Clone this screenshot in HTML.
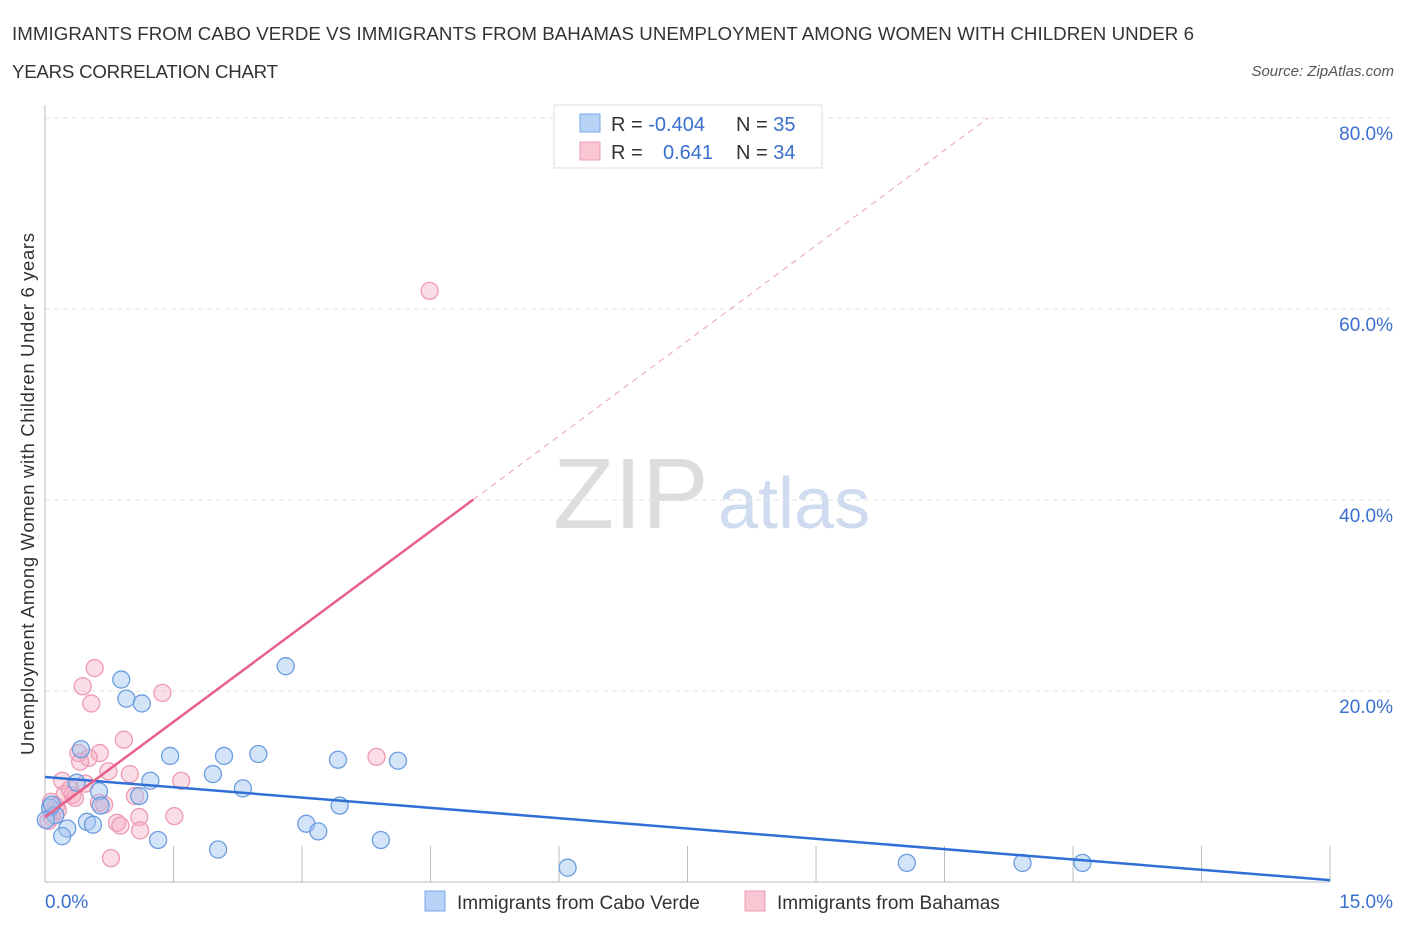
<!DOCTYPE html>
<html><head><meta charset="utf-8"><style>
body{margin:0;background:#fff;font-family:"Liberation Sans",sans-serif;}
svg text{font-family:"Liberation Sans",sans-serif;}
</style></head><body>
<svg id="c" width="1406" height="930" xmlns="http://www.w3.org/2000/svg">
<text x="12" y="40" font-size="18.7" fill="#333" textLength="1182">IMMIGRANTS FROM CABO VERDE VS IMMIGRANTS FROM BAHAMAS UNEMPLOYMENT AMONG WOMEN WITH CHILDREN UNDER 6</text>
<text x="12" y="78" font-size="18.7" fill="#333" textLength="266">YEARS CORRELATION CHART</text>
<text x="1394" y="76" font-size="15" fill="#555" font-style="italic" text-anchor="end">Source: ZipAtlas.com</text>
<text x="553" y="528" font-size="100" fill="#ddd" font-family="Liberation Serif">ZIP</text>
<text x="718" y="528" font-size="72" fill="#cfdcf0">atlas</text>
<text transform="translate(34,494) rotate(-90)" font-size="18.5" fill="#333" text-anchor="middle" textLength="522">Unemployment Among Women with Children Under 6 years</text>
<g id="grid"></g><g id="marks"></g>
<g>
<rect x="554" y="105" width="268" height="63" fill="#fff" stroke="#ddd"/>
<rect x="580" y="114" width="20" height="18" fill="#b8d2f5" stroke="#7aa7e6"/>
<rect x="580" y="142" width="20" height="18" fill="#f9c6d4" stroke="#ee9ab4"/>
<text x="611" y="131" font-size="20" fill="#333">R = <tspan fill="#3a6fcf">-0.404</tspan></text>
<text x="736" y="131" font-size="20" fill="#333">N = <tspan fill="#3a6fcf">35</tspan></text>
<text x="611" y="159" font-size="20" fill="#333">R = </text>
<text x="663" y="159" font-size="20" fill="#3a6fcf">0.641</text>
<text x="736" y="159" font-size="20" fill="#333">N = <tspan fill="#3a6fcf">34</tspan></text>
</g>
<g>
<rect x="425" y="891" width="20" height="20" fill="#b8d2f5" stroke="#7aa7e6"/>
<text x="457" y="909" font-size="19" fill="#333">Immigrants from Cabo Verde</text>
<rect x="745" y="891" width="20" height="20" fill="#f9c6d4" stroke="#ee9ab4"/>
<text x="777" y="909" font-size="19" fill="#333">Immigrants from Bahamas</text>
</g>
</svg>
<script>
const yTicks=[20,40,60,80];
const xTickLabels=["0.0%","15.0%"];
const blueX=[0.89,0.95,1.13,0.42,1.46,2.09,2.49,3.42,4.12,2.81,1.96,1.23,0.37,0.63,1.10,2.31,3.44,3.05,3.19,0.49,0.56,0.26,0.20,1.32,2.02,3.92,6.10,10.06,11.41,12.11,0.06,0.12,0.08,0.01,0.65];
const blueY=[21.2,19.2,18.7,13.9,13.2,13.2,13.4,12.8,12.7,22.6,11.3,10.6,10.4,9.5,9.0,9.8,8.0,6.1,5.3,6.3,6.0,5.6,4.8,4.4,3.4,4.4,1.5,2.0,2.0,2.0,7.8,7.0,8.1,6.5,8.0];
const pinkX=[4.49,0.58,0.44,0.54,1.37,0.92,0.39,0.64,0.51,0.41,3.87,0.74,0.99,1.59,0.20,0.47,0.23,0.32,1.05,0.35,0.63,0.69,0.07,0.13,0.15,0.08,0.04,0.84,0.88,1.10,1.11,1.51,0.77,0.29];
const pinkY=[61.9,22.4,20.5,18.7,19.8,14.9,13.5,13.5,13.0,12.6,13.1,11.6,11.3,10.6,10.6,10.3,9.2,9.1,9.0,8.8,8.3,8.1,8.4,7.9,7.5,6.8,6.4,6.2,5.9,6.8,5.4,6.9,2.5,9.7];
const blueTrend=[11.0,0.2];
const pinkTrend=[6.8,6.65];
const NS="http://www.w3.org/2000/svg";
const X=v=>45+v*85.67, Y=v=>882-v*9.55;
function mk(t,a,p){const e=document.createElementNS(NS,t);for(const k in a)e.setAttribute(k,a[k]);p.appendChild(e);return e;}
const g=document.getElementById('grid'),m=document.getElementById('marks');
yTicks.forEach(t=>{const l=mk('line',{x1:45,x2:1394,y1:Y(t),y2:Y(t),stroke:'#e2e2e2','stroke-dasharray':'5,4'},g);


const tx=mk('text',{x:1393,y:Y(t)+22,'font-size':19,fill:'#3a6fcf','text-anchor':'end'},g);tx.textContent=t.toFixed(1)+'%';

});
mk('line',{x1:45,x2:45,y1:105,y2:882,stroke:'#bbb'},g);
mk('line',{x1:45,x2:1330,y1:882,y2:882,stroke:'#bbb'},g);
for(let i=1;i<=10;i++){mk('line',{x1:X(i*1.5),x2:X(i*1.5),y1:846,y2:882,stroke:'#bbb'},g);}
const xl=mk('text',{x:45,y:908,'font-size':19,fill:'#3a6fcf'},g);xl.textContent=xTickLabels[0];


const xr=mk('text',{x:1393,y:908,'font-size':19,fill:'#3a6fcf','text-anchor':'end'},g);xr.textContent=xTickLabels[1];


pinkX.forEach((v,i)=>{const c=mk('circle',{cx:X(v),cy:Y(pinkY[i]),r:8.5,fill:'rgba(246,170,193,0.4)',stroke:'#ee9ab4','stroke-width':1.3},m);

});
blueX.forEach((v,i)=>{const c=mk('circle',{cx:X(v),cy:Y(blueY[i]),r:8.5,fill:'rgba(160,196,240,0.45)',stroke:'#6b9de0','stroke-width':1.3},m);

});
const bl=mk('line',{x1:X(0),y1:Y(blueTrend[0]),x2:X(15),y2:Y(blueTrend[1]),stroke:'#2f6fd6','stroke-width':2.5},m);


const pe=5.0, pd=(80-pinkTrend[0])/pinkTrend[1];
const ps=mk('line',{x1:X(0),y1:Y(pinkTrend[0]),x2:X(pe),y2:Y(pinkTrend[0]+pinkTrend[1]*pe),stroke:'#e8608a','stroke-width':2.5},m);


const pdl=mk('line',{x1:X(pe),y1:Y(pinkTrend[0]+pinkTrend[1]*pe),x2:X(pd),y2:Y(80),stroke:'#eaa0b8','stroke-width':1,'stroke-dasharray':'6,5'},m);


</script>
</body></html>
